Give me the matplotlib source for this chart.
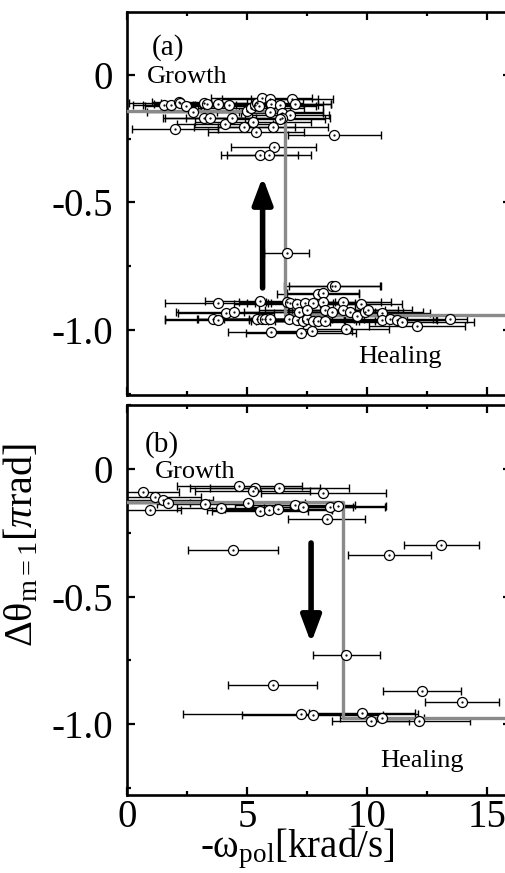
import matplotlib
matplotlib.use("Agg")
import matplotlib.pyplot as plt
from matplotlib.ticker import MultipleLocator

plt.rcParams["font.family"] = ["Liberation Serif", "DejaVu Serif"]
plt.rcParams["mathtext.fontset"] = "custom"
plt.rcParams["mathtext.rm"] = "Liberation Serif"
plt.rcParams["mathtext.it"] = "Liberation Serif:italic"
plt.rcParams["axes.unicode_minus"] = False

# ---- panel (a) data ----
# growth branch
ga_x = [1.53, 1.85, 2.15, 2.20, 2.47, 2.75, 3.22, 3.33, 3.78, 4.24, 3.22, 3.47, 1.99,
        4.10, 4.37, 4.89, 5.25, 5.39, 5.00, 5.17, 5.35, 5.42, 5.62, 5.48, 5.97, 6.00,
        6.36, 5.97, 6.46, 6.80, 6.46, 6.36, 6.08, 6.88, 7.01, 8.64, 6.11, 5.53, 5.90]
ga_y = [-0.118, -0.118, -0.105, -0.110, -0.122, -0.144, -0.111, -0.114, -0.114, -0.118,
        -0.170, -0.170, -0.212, -0.193, -0.167, -0.203, -0.183, -0.225, -0.140, -0.130,
        -0.118, -0.110, -0.092, -0.120, -0.095, -0.115, -0.118, -0.144, -0.148, -0.157,
        -0.170, -0.172, -0.203, -0.095, -0.114, -0.235, -0.281, -0.314, -0.314]
ga_err = [1.3, 1.2, 1.1, 2.1, 1.7, 1.9, 1.8, 2.2, 2.0, 2.3, 1.7, 1.9, 1.8, 2.0, 1.9, 2.1,
          2.4, 2.0, 1.8, 2.2, 2.6, 1.9, 2.1, 2.4, 2.0, 2.5, 1.8, 2.2, 1.7, 1.6, 2.0, 1.9,
          2.3, 1.7, 1.5, 1.95, 1.77, 1.6, 1.75]
# lone point in between
ma_x = [6.65]
ma_y = [-0.70]
ma_err = [0.95]
# healing branch
ha_x = [8.53, 8.67, 7.97, 8.18, 3.80, 5.54, 6.65, 6.79, 7.07, 7.42, 7.76, 8.18, 9.01,
        9.74, 4.13, 4.46, 3.60, 3.78, 5.40, 5.61, 5.75, 5.96, 6.76, 7.07, 7.35, 7.49,
        7.76, 7.97, 8.25, 7.18, 7.49, 8.25, 8.53, 9.01, 9.29, 9.57, 9.92, 10.06, 10.61,
        10.61, 10.96, 11.24, 11.46, 12.07, 13.46, 5.99, 7.24, 7.69, 9.13]
ha_y = [-0.827, -0.827, -0.860, -0.856, -0.895, -0.886, -0.889, -0.895, -0.897, -0.895,
        -0.895, -0.891, -0.889, -0.898, -0.935, -0.930, -0.958, -0.960, -0.958, -0.957,
        -0.957, -0.958, -0.957, -0.960, -0.965, -0.958, -0.965, -0.965, -0.965, -0.928,
        -0.922, -0.922, -0.928, -0.922, -0.928, -0.945, -0.928, -0.922, -0.935, -0.960,
        -0.958, -0.960, -0.967, -0.984, -0.958, -1.006, -1.010, -1.003, -0.997]
ha_err = [2.0, 1.9, 1.7, 1.5, 2.2, 2.3, 2.0, 1.8, 2.6, 2.1, 1.9, 2.4, 2.0, 1.7, 2.0, 2.4,
          2.0, 2.2, 2.5, 2.1, 2.8, 2.3, 2.7, 2.0, 2.2, 2.4, 1.9, 2.6, 2.1, 2.3, 2.0, 2.5,
          1.8, 2.3, 2.2, 2.1, 2.4, 1.8, 2.0, 2.3, 1.9, 2.2, 3.0, 2.0, 0.7, 1.8, 2.3, 1.7, 1.8]
# step (transition) line
step_a_x = [0, 6.58, 6.58, 16.5]
step_a_y = [-0.14, -0.14, -0.94, -0.94]
arrow_a = (5.65, -0.835, -0.40)   # x, tail y, tip y

# ---- panel (b) data ----
gb_x = [0.68, 1.17, 1.49, 1.72, 0.96, 4.68, 5.33, 5.24, 6.35, 8.18, 3.25, 3.90, 5.03,
        5.54, 5.93, 6.30, 7.00, 7.32, 8.46, 8.80, 8.32]
gb_y = [-0.089, -0.111, -0.120, -0.135, -0.161, -0.067, -0.073, -0.086, -0.076, -0.093,
        -0.138, -0.152, -0.135, -0.163, -0.161, -0.158, -0.141, -0.148, -0.148, -0.145,
        -0.197]
gb_err = [1.5, 1.9, 2.1, 1.7, 1.3, 2.6, 2.7, 2.4, 2.9, 2.6, 2.0, 1.8, 2.4, 2.0, 2.6,
          2.2, 2.5, 2.1, 2.3, 2.0, 1.6]
sb_x = [4.43, 13.10, 10.93, 9.13, 6.07, 12.28, 13.95, 7.24, 7.74, 9.78, 10.15, 10.61, 12.18]
sb_y = [-0.318, -0.298, -0.337, -0.729, -0.847, -0.869, -0.912, -0.961, -0.965, -0.958,
        -0.987, -0.978, -0.987]
sb_err = [1.88, 1.56, 1.72, 1.40, 1.86, 1.63, 1.55, 4.9, 2.94, 2.2, 1.6, 1.75, 2.1]
step_b_x = [0, 9.0, 9.0, 16.5]
step_b_y = [-0.13, -0.13, -0.975, -0.975]
arrow_b = (7.67, -0.29, -0.682)

W, H = 506, 873
fig = plt.figure(figsize=(W / 100, H / 100), dpi=100)
ax_a = fig.add_axes([127 / W, 1 - 395 / H, 384 / W, 383 / H])
ax_b = fig.add_axes([127 / W, 1 - 795 / H, 384 / W, 390 / H])


def draw_points(ax, xs, ys, errs):
    ax.errorbar(xs, ys, xerr=errs, fmt="none", ecolor="black", elinewidth=1.0,
                capsize=3, capthick=1.0, zorder=2)
    ax.plot(xs, ys, "o", ms=7.2, mfc="white", mec="black", mew=0.9, zorder=4)
    ax.plot(xs, ys, ".", ms=1.2, color="black", zorder=5)


def style_axes(ax, ylim, show_xlabels):
    ax.set_xlim(0, 16)
    ax.set_ylim(*ylim)
    ax.xaxis.set_major_locator(MultipleLocator(5))
    ax.xaxis.set_minor_locator(MultipleLocator(2.5))
    ax.set_yticks([0, -0.5, -1.0], ["0", "-0.5", "-1.0"])
    ax.yaxis.set_minor_locator(MultipleLocator(0.25))
    ax.tick_params(which="both", direction="in", top=True, right=True, width=1.6)
    ax.tick_params(which="major", length=6, labelsize=28)
    ax.tick_params(which="minor", length=3)
    ax.tick_params(axis="y", pad=10)
    ax.tick_params(axis="x", pad=3)
    if not show_xlabels:
        ax.tick_params(axis="x", labelbottom=False)
    for sp in ax.spines.values():
        sp.set_linewidth(1.9)


def draw_arrow(ax, spec):
    x, y0, y1 = spec
    ax.annotate("", xy=(x, y1), xytext=(x, y0),
                arrowprops=dict(arrowstyle="-|>,head_length=0.8,head_width=0.3",
                                lw=4, color="black", shrinkA=0, shrinkB=0,
                                mutation_scale=20, capstyle="round"),
                zorder=6)


# panel (a)
ax_a.plot(step_a_x, step_a_y, color="#8a8a8a", lw=2.4, zorder=3)
draw_points(ax_a, ga_x, ga_y, ga_err)
draw_points(ax_a, ma_x, ma_y, ma_err)
draw_points(ax_a, ha_x, ha_y, ha_err)
draw_arrow(ax_a, arrow_a)
style_axes(ax_a, (-1.255, 0.247), False)
ax_a.text(1.04, 0.078, "(a)", fontsize=21)
ax_a.text(0.83, -0.031, "Growth", fontsize=19)
ax_a.text(9.63, -1.13, "Healing", fontsize=19)

# panel (b)
ax_b.plot(step_b_x, step_b_y, color="#8a8a8a", lw=2.4, zorder=3)
draw_points(ax_b, gb_x, gb_y, gb_err)
draw_points(ax_b, sb_x, sb_y, sb_err)
draw_arrow(ax_b, arrow_b)
style_axes(ax_b, (-1.278, 0.251), True)
ax_b.text(0.75, 0.067, "(b)", fontsize=21)
ax_b.text(1.17, -0.035, "Growth", fontsize=19)
ax_b.text(10.54, -1.17, "Healing", fontsize=19)

fig.text(297 / W, 1 - 857 / H, "-ω$_{\\mathrm{pol}}$[krad/s]", fontsize=28,
         ha="center", va="baseline")
fig.text(22 / W, 1 - 545 / H, "Δθ$_{\\mathrm{m=1}}$[$\\pi$rad]", fontsize=29,
         ha="center", va="center", rotation=90)

fig.savefig("out.png", dpi=100)
